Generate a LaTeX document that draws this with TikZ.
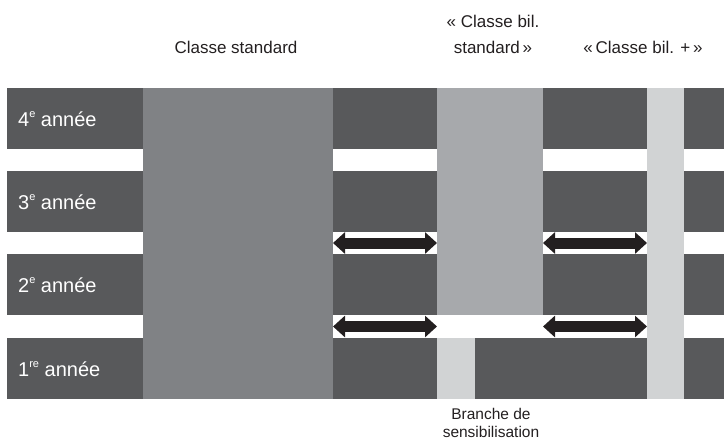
\documentclass[tikz,border=0pt]{standalone}
\usepackage{fontspec}
\setmainfont{Liberation Sans}
\usetikzlibrary{arrows.meta}
\definecolor{dark}{HTML}{58595B}
\definecolor{stdcol}{HTML}{808285}
\definecolor{bilcol}{HTML}{A7A9AC}
\definecolor{pluscol}{HTML}{D1D3D4}
\definecolor{ink}{HTML}{231F20}
\newcommand\yrsup[1]{\raisebox{0.42em}{\fontsize{11}{11}\selectfont #1}}
\begin{document}
\begin{tikzpicture}[x=1pt,y=-1pt,
  title/.style={anchor=base,align=center,inner sep=0pt,text=ink,font=\fontsize{17}{26}\selectfont},
  year/.style={anchor=base west,inner sep=0pt,text=white,font=\fontsize{20}{21}\selectfont},
  dbl/.style={draw=ink,line width=11pt,{Triangle[length=12pt,width=21pt]}-{Triangle[length=12pt,width=21pt]}}]
\useasboundingbox (0,0) rectangle (724,440);
% rows
\fill[dark] (7,88) rectangle (724,149);
\fill[dark] (7,171) rectangle (724,232);
\fill[dark] (7,254) rectangle (724,315);
\fill[dark] (7,338) rectangle (724,399);
% columns
\fill[stdcol] (143,88) rectangle (333,399);
\fill[bilcol] (437,88) rectangle (543,315);
\fill[pluscol] (647,88) rectangle (684,399);
\fill[pluscol] (437,338) rectangle (475,399);
% year labels
\node[year] (y4) at (18,126) {4\yrsup{e} année};
\node[year] (y3) at (18,209) {3\yrsup{e} année};
\node[year] (y2) at (18,292) {2\yrsup{e} année};
\node[year] (y1) at (18,376) {1\yrsup{re} année};
% titles
\node[title] (std) at (236,53) {Classe standard};
\node[title] (bil) at (493,53) {«~Classe bil.\\standard\,»};
\node[title] (plus) at (643,53) {«\,Classe bil. +\,»};
\node[title,font=\fontsize{15.5}{18}\selectfont] (branch) at (491,437) {Branche de\\sensibilisation};
% passages
\coordinate (a1) at (333,243);
\coordinate (b1) at (437,243);
\coordinate (a2) at (333,326.5);
\coordinate (b2) at (437,326.5);
\coordinate (c1) at (543,243);
\coordinate (d1) at (647,243);
\coordinate (c2) at (543,326.5);
\coordinate (d2) at (647,326.5);
\draw[dbl] (a1) -- (b1);
\draw[dbl] (a2) -- (b2);
\draw[dbl] (c1) -- (d1);
\draw[dbl] (c2) -- (d2);
\end{tikzpicture}
\end{document}
